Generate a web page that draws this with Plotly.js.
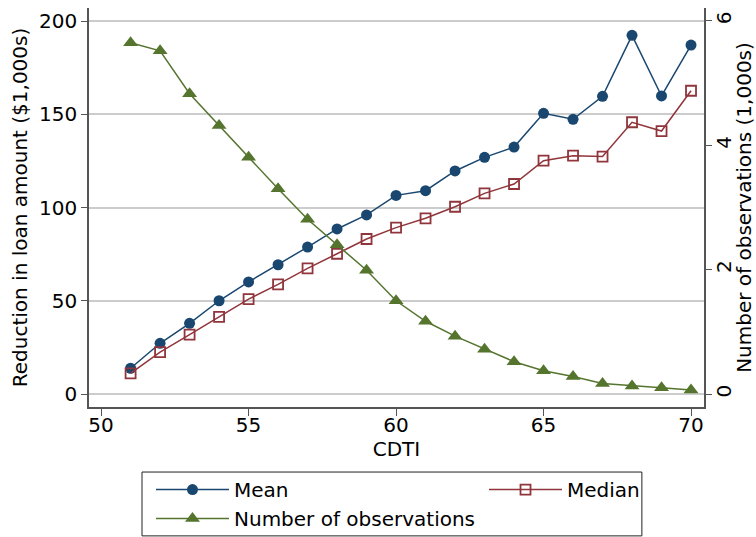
<!DOCTYPE html>
<html>
<head>
<meta charset="utf-8">
<script src="https://cdn.plot.ly/plotly-3.0.1.min.js"></script>
<style>html,body{margin:0;padding:0;background:#fff;}#chart{width:756px;height:537px;}</style>
</head>
<body>
<div id="chart"></div>
<script>
var cdti = [51,52,53,54,55,56,57,58,59,60,61,62,63,64,65,66,67,68,69,70];
var meanVals = [13.8,27.2,37.9,50.0,60.1,69.3,78.8,88.5,96.0,106.5,109.0,119.6,126.9,132.4,150.5,147.3,159.6,192.3,159.8,187.1];
var medianVals = [11.1,22.4,31.8,41.4,50.9,58.8,67.4,75.2,83.1,89.2,94.2,100.4,107.6,112.6,125.1,127.8,127.3,145.7,141.0,162.6];
var obsVals = [5.65,5.52,4.83,4.32,3.81,3.30,2.81,2.40,1.99,1.50,1.17,0.93,0.72,0.52,0.375,0.28,0.17,0.13,0.10,0.064];
var xTicks = [50,55,60,65,70];
var yTicks = [0,50,100,150,200];
var y2Ticks = [0,2,4,6];

var font = 'DejaVu Sans, sans-serif';
var traces = [
  {x: cdti, y: meanVals, name: 'Mean', type: 'scatter', mode: 'lines+markers', legend: 'legend',
   line: {color: '#1a476f', width: 1.5}, marker: {symbol: 'circle', size: 11, color: '#1a476f'}},
  {x: cdti, y: medianVals, name: 'Median', type: 'scatter', mode: 'lines+markers', legend: 'legend2',
   line: {color: '#90353b', width: 1.5}, marker: {symbol: 'square-open', size: 10, color: '#90353b', line: {width: 1.8, color: '#90353b'}}},
  {x: cdti, y: obsVals, name: 'Number of observations', type: 'scatter', mode: 'lines+markers', yaxis: 'y2', legend: 'legend',
   line: {color: '#55752f', width: 1.5}, marker: {symbol: 'triangle-up', size: 13, color: '#55752f'}}
];
var legendCommon = {orientation: 'v', xanchor: 'left', yanchor: 'top', y: -0.158,
  borderwidth: 0, bgcolor: 'rgba(0,0,0,0)', font: {size: 20}, tracegroupgap: 0, itemwidth: 73};
var layout = {
  width: 756, height: 537,
  margin: {l: 89, r: 52, t: 8, b: 130, autoexpand: false},
  paper_bgcolor: '#fff', plot_bgcolor: '#fff',
  font: {family: font, size: 20, color: '#000'},
  showlegend: true,
  xaxis: {range: [49.59, 70.44], tickvals: xTicks, ticks: 'outside', ticklen: 7, tickcolor: '#555',
    ticklabelstandoff: -8,
    showgrid: false, zeroline: false, showline: true, linecolor: '#555', linewidth: 1.5,
    title: {text: 'CDTI', font: {size: 20}, standoff: 0}},
  yaxis: {range: [-6.97, 206.97], tickvals: yTicks, ticks: 'outside', ticklen: 6, tickcolor: '#555',
    showgrid: true, gridcolor: '#cccccc', gridwidth: 1.5, zeroline: false, showline: true, linecolor: '#555', linewidth: 1.5,
    title: {text: 'Reduction in loan amount ($1,000s)', font: {size: 20}, standoff: 6}},
  yaxis2: {range: [-0.209, 6.209], tickvals: y2Ticks, overlaying: 'y', side: 'right', ticks: 'outside', ticklen: 6, tickcolor: '#555',
    tickangle: -90, ticklabelstandoff: -5, showgrid: false, zeroline: false, showline: true, linecolor: '#555', linewidth: 1.5,
    title: {text: 'Number of observations (1,000s)', font: {size: 20}, standoff: 12}},
  legend: Object.assign({}, legendCommon, {x: 0.1008}),
  legend2: Object.assign({}, legendCommon, {x: 0.6423}),
  shapes: [{type: 'rect', xref: 'paper', yref: 'paper', x0: 0.0862, x1: 0.899, y0: -0.323, y1: -0.163,
    line: {color: '#222', width: 1}, fillcolor: 'rgba(0,0,0,0)', layer: 'above'}]
};
Plotly.newPlot('chart', traces, layout, {displayModeBar: false});
</script>
</body>
</html>
